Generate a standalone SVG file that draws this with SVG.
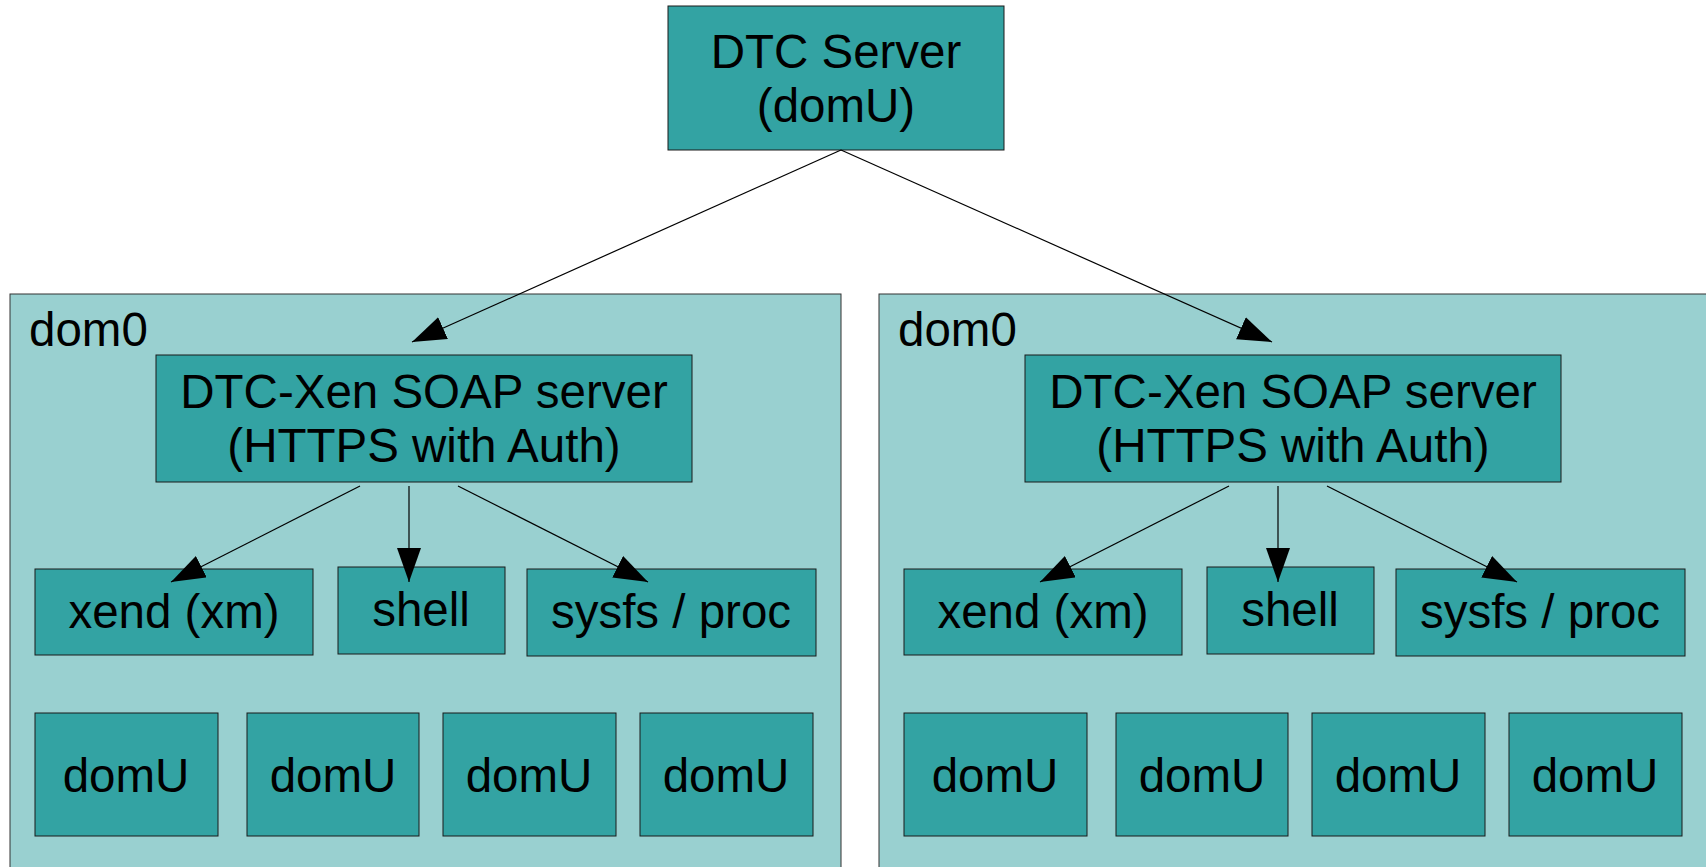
<svg xmlns="http://www.w3.org/2000/svg" width="1706" height="867" viewBox="0 0 1706 867">
<defs>
<style>
text{font-family:"Liberation Sans",Arial,sans-serif;font-size:47.5px;fill:#000;}
.c{text-anchor:middle;}
.cont{fill:#99d0d0;stroke:#333;stroke-width:1;}
.box{fill:#33a3a3;stroke:#1a1a1a;stroke-width:1;}
.ln{stroke:#000;stroke-width:1.2;fill:none;marker-end:url(#ah);}
</style>
<marker id="ah" markerUnits="userSpaceOnUse" markerWidth="36" markerHeight="26" refX="34" refY="12" orient="auto" viewBox="0 0 36 26">
<path d="M0,0 L34,12 L0,24 z" fill="#000"/>
</marker>
</defs>
<rect width="1706" height="867" fill="#fff"/>
<g id="dom0-left">
<rect class="cont" x="10" y="294" width="831" height="600"/>
<text x="29" y="346">dom0</text>
</g>
<g id="dom0-right">
<rect class="cont" x="879" y="294" width="860" height="600"/>
<text x="898" y="346">dom0</text>
</g>
<g id="dtc-server">
<rect class="box" x="668" y="6" width="336" height="144"/>
<text class="c" x="836" y="68">DTC Server</text>
<text class="c" x="836" y="122">(domU)</text>
</g>
<g id="soap-left">
<rect class="box" x="156" y="355" width="536" height="127"/>
<text class="c" x="424" y="408">DTC-Xen SOAP server</text>
<text class="c" x="424" y="462">(HTTPS with Auth)</text>
</g>
<g id="xend-left"><rect class="box" x="35" y="569" width="278" height="86"/><text class="c" x="174" y="628">xend (xm)</text></g>
<g id="shell-left"><rect class="box" x="338" y="567" width="167" height="87"/><text class="c" x="421" y="626">shell</text></g>
<g id="sysfs-left"><rect class="box" x="527" y="569" width="289" height="87"/><text class="c" x="671" y="628">sysfs / proc</text></g>
<g id="domU-l1"><rect class="box" x="35" y="713" width="183" height="123"/><text class="c" x="126" y="792">domU</text></g>
<g id="domU-l2"><rect class="box" x="247" y="713" width="172" height="123"/><text class="c" x="333" y="792">domU</text></g>
<g id="domU-l3"><rect class="box" x="443" y="713" width="173" height="123"/><text class="c" x="529" y="792">domU</text></g>
<g id="domU-l4"><rect class="box" x="640" y="713" width="173" height="123"/><text class="c" x="726" y="792">domU</text></g>
<g id="soap-right">
<rect class="box" x="1025" y="355" width="536" height="127"/>
<text class="c" x="1293" y="408">DTC-Xen SOAP server</text>
<text class="c" x="1293" y="462">(HTTPS with Auth)</text>
</g>
<g id="xend-right"><rect class="box" x="904" y="569" width="278" height="86"/><text class="c" x="1043" y="628">xend (xm)</text></g>
<g id="shell-right"><rect class="box" x="1207" y="567" width="167" height="87"/><text class="c" x="1290" y="626">shell</text></g>
<g id="sysfs-right"><rect class="box" x="1396" y="569" width="289" height="87"/><text class="c" x="1540" y="628">sysfs / proc</text></g>
<g id="domU-r1"><rect class="box" x="904" y="713" width="183" height="123"/><text class="c" x="995" y="792">domU</text></g>
<g id="domU-r2"><rect class="box" x="1116" y="713" width="172" height="123"/><text class="c" x="1202" y="792">domU</text></g>
<g id="domU-r3"><rect class="box" x="1312" y="713" width="173" height="123"/><text class="c" x="1398" y="792">domU</text></g>
<g id="domU-r4"><rect class="box" x="1509" y="713" width="173" height="123"/><text class="c" x="1595" y="792">domU</text></g>
<g id="connectors">
<line class="ln" x1="841" y1="150" x2="412" y2="342"/>
<line class="ln" x1="841" y1="150" x2="1272" y2="342"/>
<line class="ln" x1="360" y1="486" x2="171" y2="582"/>
<line class="ln" x1="409" y1="486" x2="409" y2="582"/>
<line class="ln" x1="458" y1="486" x2="648" y2="582"/>
<line class="ln" x1="1229" y1="486" x2="1040" y2="582"/>
<line class="ln" x1="1278" y1="486" x2="1278" y2="582"/>
<line class="ln" x1="1327" y1="486" x2="1517" y2="582"/>
</g>
</svg>
